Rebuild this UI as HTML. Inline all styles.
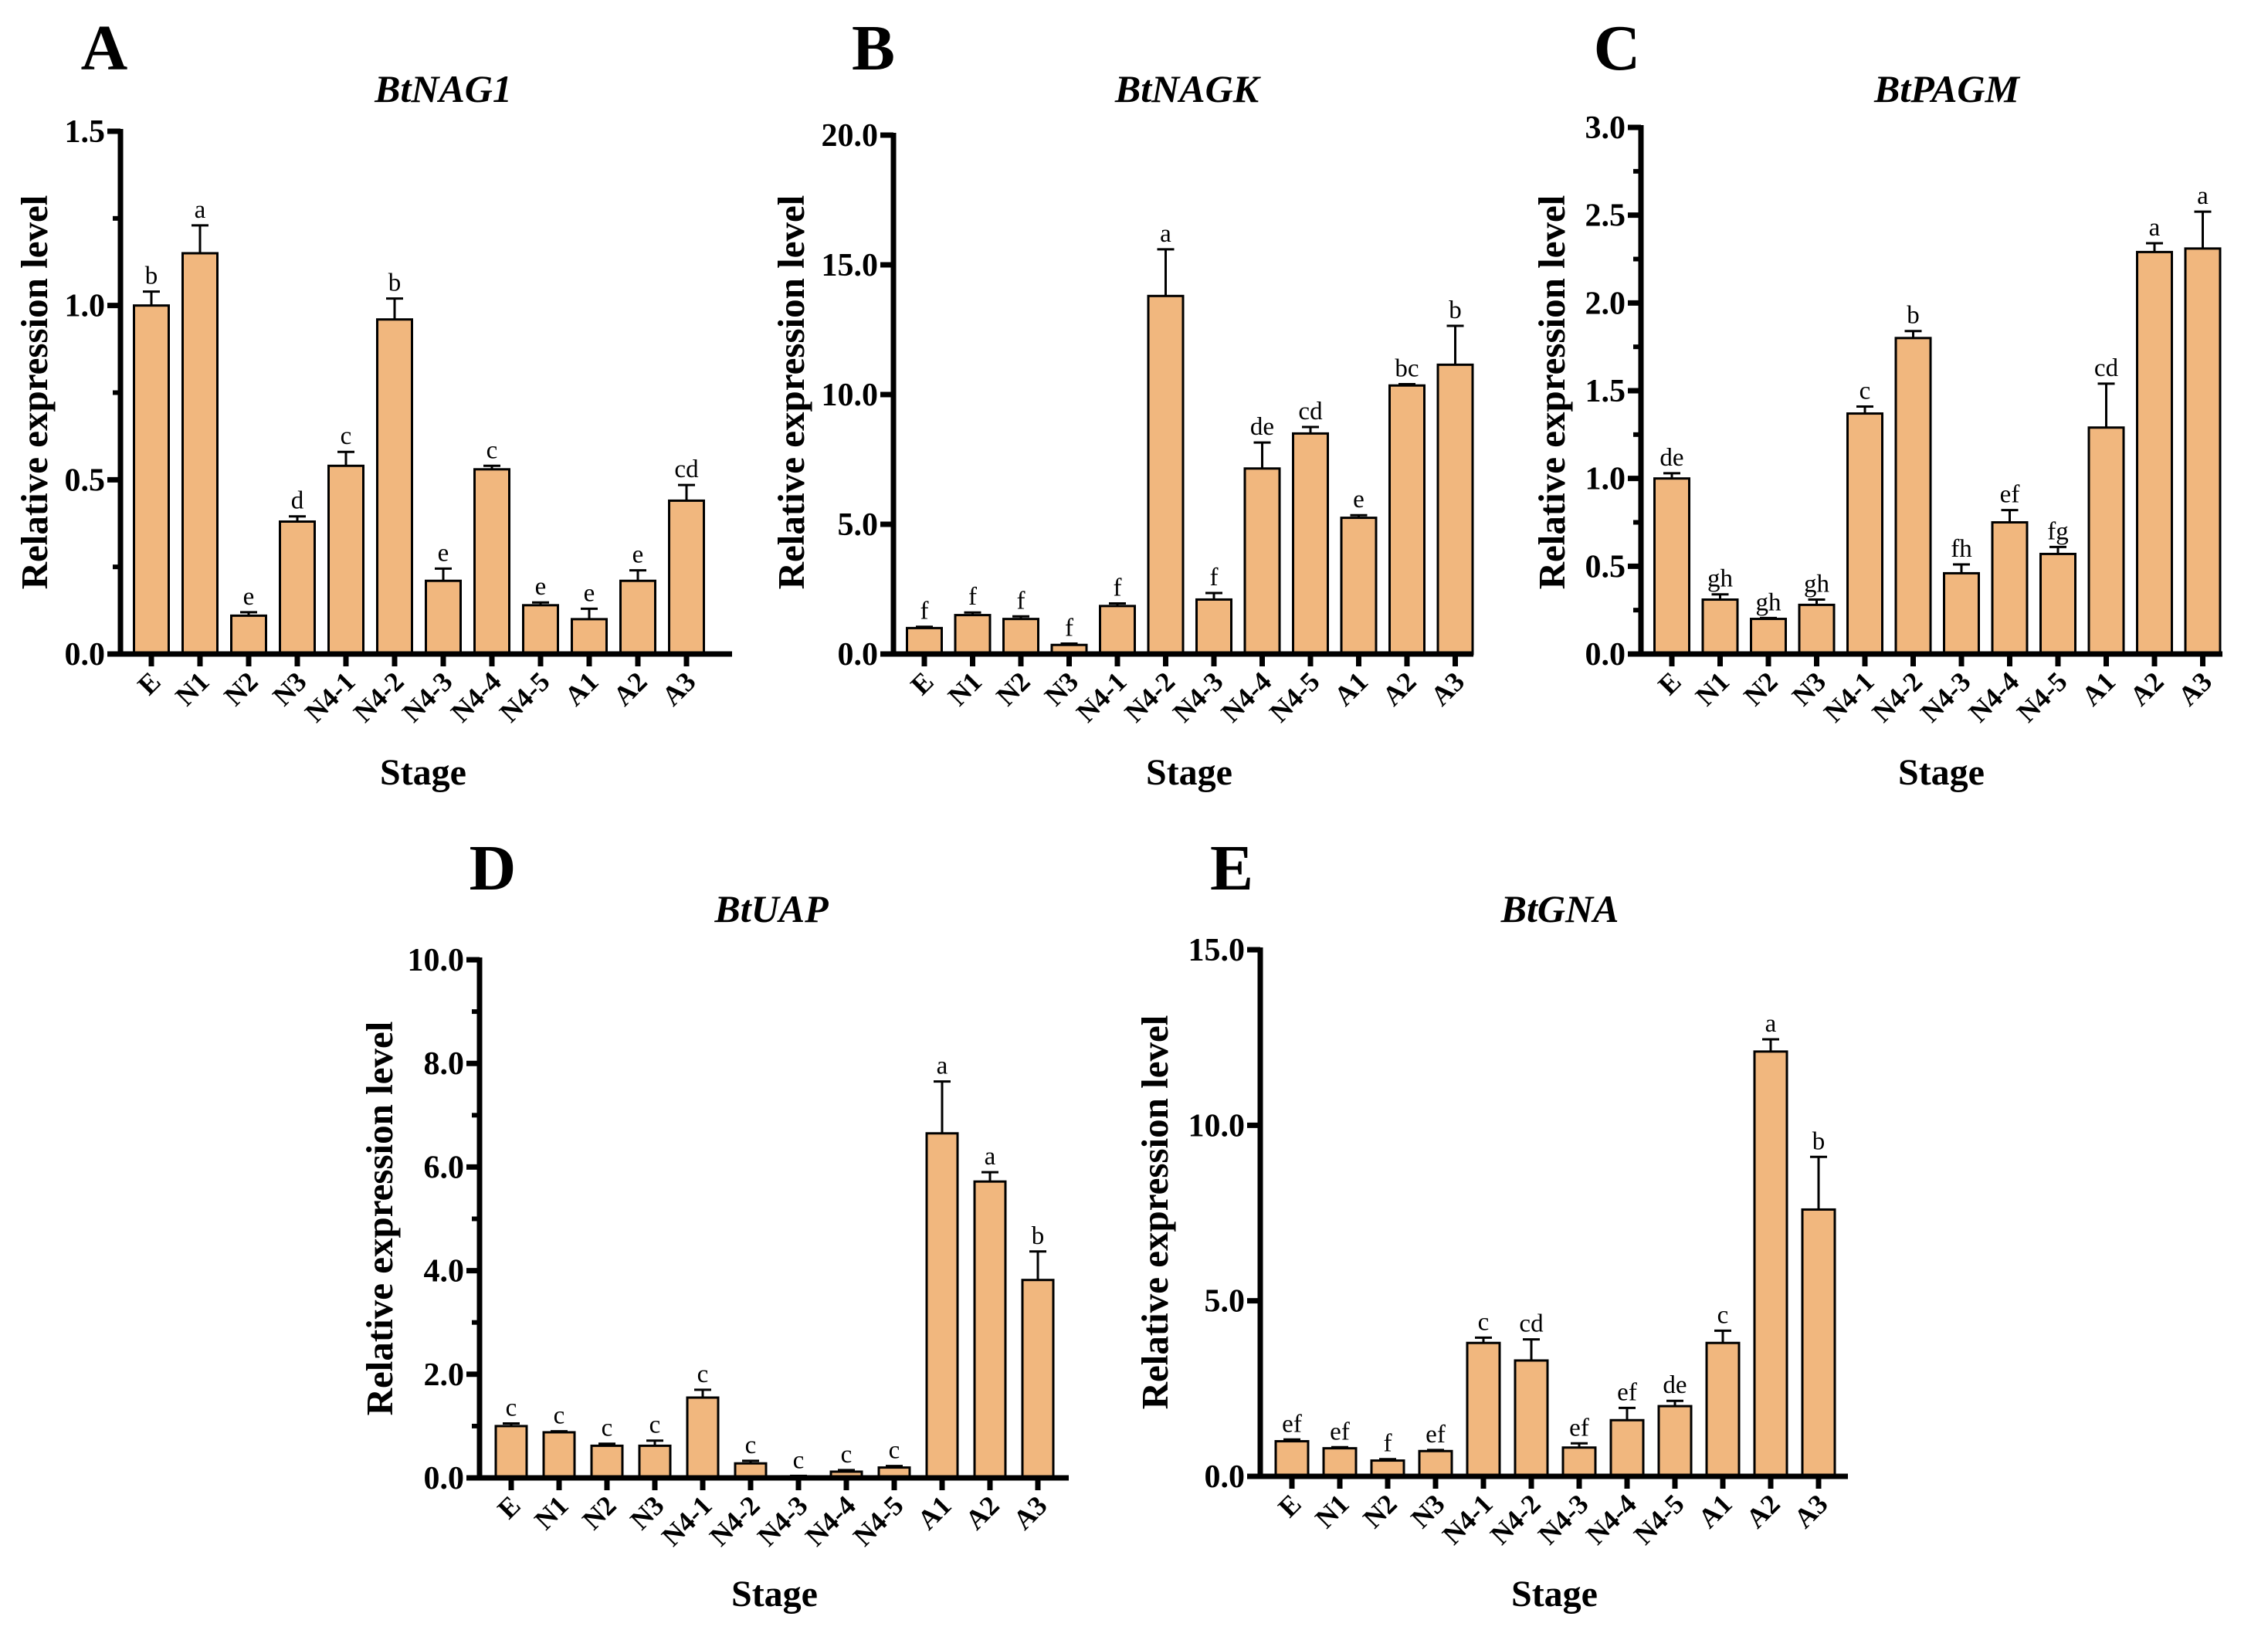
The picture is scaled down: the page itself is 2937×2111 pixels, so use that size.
<!DOCTYPE html>
<html><head><meta charset="utf-8"><style>
html,body{margin:0;padding:0;background:#fff;}
svg{display:block;}
text{font-family:"Liberation Serif","Times New Roman",serif;}
</style></head><body>
<svg id="fig" width="2937" height="2111" viewBox="0 0 2937 2111" xmlns="http://www.w3.org/2000/svg"></svg>
<script>
const categories = ["E","N1","N2","N3","N4-1","N4-2","N4-3","N4-4","N4-5","A1","A2","A3"];

const nag1Values = [1.00,1.15,0.11,0.38,0.54,0.96,0.21,0.53,0.14,0.10,0.21,0.44];
const nag1Errors = [0.04,0.08,0.01,0.015,0.04,0.06,0.035,0.01,0.008,0.03,0.03,0.045];
const nag1Letters = ["b","a","e","d","c","b","e","c","e","e","e","cd"];
const nag1Ticks = ["0.0","0.5","1.0","1.5"];

const nagkValues = [1.0,1.5,1.35,0.35,1.85,13.8,2.1,7.15,8.5,5.25,10.35,11.15];
const nagkErrors = [0.05,0.1,0.1,0.05,0.1,1.8,0.25,1.0,0.25,0.1,0.05,1.5];
const nagkLetters = ["f","f","f","f","f","a","f","de","cd","e","bc","b"];
const nagkTicks = ["0.0","5.0","10.0","15.0","20.0"];

const pagmValues = [1.0,0.31,0.20,0.28,1.37,1.80,0.46,0.75,0.57,1.29,2.29,2.31];
const pagmErrors = [0.03,0.03,0.005,0.03,0.04,0.04,0.05,0.07,0.04,0.25,0.05,0.21];
const pagmLetters = ["de","gh","gh","gh","c","b","fh","ef","fg","cd","a","a"];
const pagmTicks = ["0.0","0.5","1.0","1.5","2.0","2.5","3.0"];

const uapValues = [1.0,0.88,0.62,0.62,1.55,0.28,0.03,0.12,0.2,6.65,5.72,3.82];
const uapErrors = [0.05,0.02,0.04,0.1,0.15,0.05,0.01,0.03,0.03,1.0,0.18,0.55];
const uapLetters = ["c","c","c","c","c","c","c","c","c","a","a","b"];
const uapTicks = ["0.0","2.0","4.0","6.0","8.0","10.0"];

const gnaValues = [1.0,0.8,0.45,0.72,3.8,3.3,0.82,1.6,2.0,3.8,12.1,7.6];
const gnaErrors = [0.05,0.03,0.04,0.03,0.15,0.6,0.12,0.35,0.15,0.35,0.35,1.5];
const gnaLetters = ["ef","ef","f","ef","c","cd","ef","ef","de","c","a","b"];
const gnaTicks = ["0.0","5.0","10.0","15.0"];

const NS="http://www.w3.org/2000/svg";
const svg=document.getElementById('fig');
function mk(tag,attrs,parent){const e=document.createElementNS(NS,tag);for(const k in attrs)e.setAttribute(k,attrs[k]);(parent||svg).appendChild(e);return e;}

const panels=[
 {id:"a",letter:"A",lx:135,ly:90,title:"BtNAG1",tx:574,ty:132,values:nag1Values,errors:nag1Errors,letters:nag1Letters,ticks:nag1Ticks,ymax:1.5,minor:0.25,
  ax:156,top:170,base:847,end:948,first:40,step:63,bw:45,ytx:45,yty:508,stx:548,sty:1016},
 {id:"b",letter:"B",lx:1131,ly:90,title:"BtNAGK",tx:1537,ty:132,values:nagkValues,errors:nagkErrors,letters:nagkLetters,ticks:nagkTicks,ymax:20,minor:0,
  ax:1157,top:175,base:847,end:1908,first:40,step:62.5,bw:45,ytx:1025,yty:508,stx:1540,sty:1016},
 {id:"c",letter:"C",lx:2094,ly:90,title:"BtPAGM",tx:2521,ty:132,values:pagmValues,errors:pagmErrors,letters:pagmLetters,ticks:pagmTicks,ymax:3,minor:0.25,
  ax:2125,top:165,base:847,end:2878,first:40,step:62.5,bw:45,ytx:2010,yty:508,stx:2514,sty:1016},
 {id:"d",letter:"D",lx:638,ly:1152,title:"BtUAP",tx:999,ty:1194,values:uapValues,errors:uapErrors,letters:uapLetters,ticks:uapTicks,ymax:10,minor:1,
  ax:621,top:1243,base:1914,end:1384,first:41,step:62,bw:40,ytx:492,yty:1578,stx:1003,sty:2080},
 {id:"e",letter:"E",lx:1595,ly:1152,title:"BtGNA",tx:2020,ty:1194,values:gnaValues,errors:gnaErrors,letters:gnaLetters,ticks:gnaTicks,ymax:15,minor:0,
  ax:1632,top:1230,base:1912,end:2393,first:41,step:62,bw:42,ytx:1496,yty:1570,stx:2013,sty:2080}
];

panels.forEach(p=>{
  const g=mk('g',{});
  
  
  const yScale=v=>p.base-(v/p.ymax)*(p.base-p.top);
  const xScale=i=>p.ax+p.first+i*p.step;

  const L=mk('text',{x:p.lx,y:p.ly,'font-size':84,'font-weight':'bold','text-anchor':'middle'},g);
  L.textContent=p.letter;
  
  

  const T=mk('text',{x:p.tx,y:p.ty,'font-size':50,'font-weight':'bold','font-style':'italic','text-anchor':'middle'},g);
  T.textContent=p.title;
  
  

  p.values.forEach((v,i)=>{
    const cx=xScale(i), y=yScale(v);
    const r=mk('rect',{x:cx-p.bw/2,y:y,width:p.bw,height:Math.max(0,p.base-y),fill:'#F1B77E',stroke:'#000','stroke-width':3},g);
    
    
    const ye=yScale(v+p.errors[i]);
    const el=mk('path',{d:`M${cx},${y} L${cx},${ye} M${cx-11},${ye} L${cx+11},${ye}`,stroke:'#000','stroke-width':3,fill:'none'},g);
    
    
    const lt=mk('text',{x:cx,y:ye-10,'font-size':33,'text-anchor':'middle'},g);
    lt.textContent=p.letters[i];
    
    
    mk('line',{x1:cx,y1:p.base,x2:cx,y2:p.base+16,stroke:'#000','stroke-width':7},g);
    const cl=mk('text',{x:0,y:0,'font-size':36,'font-weight':'bold','text-anchor':'end',transform:`translate(${cx+14},${p.base+38}) rotate(-45)`},g);
    cl.textContent=categories[i];
    
    
  });

  if(p.minor){
    for(let v=p.minor; v<p.ymax-1e-9; v+=p.minor){
      mk('line',{x1:p.ax-10,y1:yScale(v),x2:p.ax,y2:yScale(v),stroke:'#000','stroke-width':6},g);
    }
  }
  p.ticks.forEach(t=>{
    const y=yScale(parseFloat(t));
    mk('line',{x1:p.ax-17,y1:y,x2:p.ax,y2:y,stroke:'#000','stroke-width':7},g);
    const tl=mk('text',{x:p.ax-20,y:y+14,'font-size':42,'font-weight':'bold','text-anchor':'end'},g);
    tl.textContent=t;
    
    
  });
  const ya=mk('line',{x1:p.ax,y1:p.top-3,x2:p.ax,y2:p.base+3,stroke:'#000','stroke-width':7},g);
  
  
  const xa=mk('line',{x1:p.ax-17,y1:p.base,x2:p.end,y2:p.base,stroke:'#000','stroke-width':7},g);
  
  

  const yt=mk('text',{x:0,y:0,'font-size':49,'font-weight':'bold','text-anchor':'middle',transform:`translate(${p.ytx+16},${p.yty}) rotate(-90)`},g);
  yt.textContent='Relative expression level';
  
  

  const st=mk('text',{x:p.stx,y:p.sty,'font-size':48,'font-weight':'bold','text-anchor':'middle'},g);
  st.textContent='Stage';
  
  
});
</script>
</body></html>
